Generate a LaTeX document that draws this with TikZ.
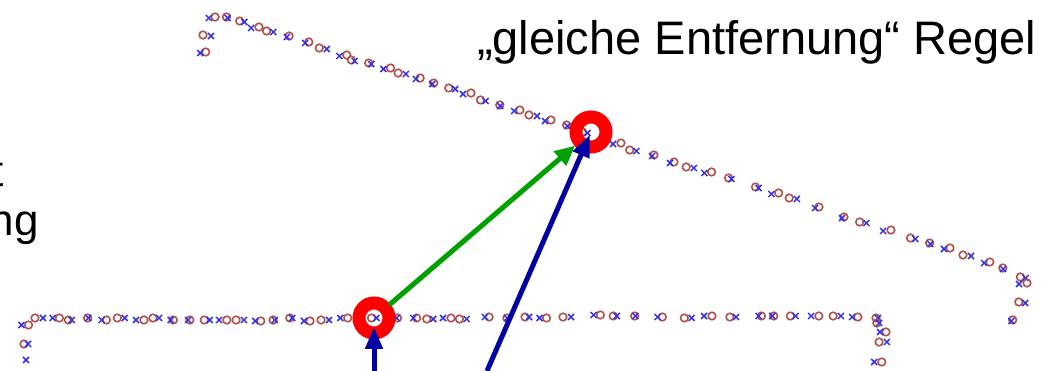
\documentclass[tikz,border=0pt]{standalone}
\usepackage{fontspec}
\setmainfont{Liberation Sans}
\usetikzlibrary{arrows.meta}
\definecolor{ringred}{RGB}{255,0,0}
\definecolor{arrgreen}{RGB}{0,160,0}
\definecolor{arrblue}{RGB}{0,0,165}
\definecolor{scanred}{RGB}{180,80,75}
\definecolor{scanblue}{RGB}{50,50,235}

\begin{document}
\begin{tikzpicture}[x=1pt,y=-1pt,
    ring/.style={draw=ringred,line width=13pt},
    greenarrow/.style={draw=arrgreen,line width=5pt,-{Triangle[length=20pt,width=18pt]}},
    bluearrow/.style={draw=arrblue,line width=5pt,-{Triangle[length=22pt,width=17pt]}},
    circmark/.style={draw=scanred,line width=1.6pt},
    crossmark/.style={draw=scanblue,line width=1.5pt},
    bigtext/.style={font=\fontsize{47}{54}\selectfont,inner sep=0pt},
    sidetext/.style={font=\fontsize{44}{50}\selectfont,inner sep=0pt}]
  \clip (0,0) rectangle (1061,371);
  \fill[white] (0,0) rectangle (1061,371);

  % left text, cut off by the frame
  \node[sidetext,anchor=base east] (cutt) at (4,187) {t};
  \node[sidetext,anchor=base east] (cutng) at (39,236) {ng};

  % title
  \node[bigtext,anchor=base west] (title) at (477,55) {„gleiche Entfernung“ Regel};

  % upper scan
  \foreach \x/\y [count=\i] in {203/52,207/35,212/17,227/17,242/21,255/27,270/31,288/36,
      307/42,323/48,343/55,353/60,370/63,387/68,402/73,418/78,433/83,452/88,467/93,
      483/100,500/105,517/110,533/115,548/120,567/125,585/132,617/143,633/150,653/155,
      672/162,690/167,708/172,730/178,757/187,775/193,793/198,817/207,843/217,863/222,
      887/230,913/238,930/243,947/248,967/255,987/262,1003/268,1023/277,1023/283,
      1022/302,1012/320}{
    \pgfmathsetmacro{\dx}{4*sin(\i*137)}
    \draw[circmark] (\x+\dx,\y) circle (3.8);
    \draw[crossmark] (\x-\dx-3,\y-2) -- (\x-\dx+3,\y+4)
                     (\x-\dx-3,\y+4) -- (\x-\dx+3,\y-2);
  }

  % lower scan
  \foreach \x/\y [count=\i] in {26/344,25/325,39/318,56/318,70/320,88/318,104/320,
      121/318,140/320,156/318,172/320,189/320,207/320,223/320,240/320,258/321,274/320,
      291/318,307/321,325/320,344/318,374/318,397/318,415/318,430/319,447/318,463/319,
      487/317,507/318,527/317,543/318,567/317,597/315,615/316,635/316,660/317,688/318,
      708/316,733/317,760/316,773/316,793/316,815/316,837/316,855/317,877/318,878/323,
      883/332,883/342,878/362}{
    \pgfmathsetmacro{\dx}{4*sin(\i*211)}
    \draw[circmark] (\x+\dx,\y) circle (3.8);
    \draw[crossmark] (\x-\dx-3,\y-3) -- (\x-\dx+3,\y+3)
                     (\x-\dx-3,\y+3) -- (\x-\dx+3,\y-3);
  }
  \draw[crossmark] (23,357) -- (29,363) (23,363) -- (29,357);

  % matched points
  \coordinate (low) at (374,318);
  \coordinate (up) at (591,132);
  \coordinate (lowfoot) at (374,380);
  \coordinate (upfoot) at (487,371);

  \draw[ring] (low) circle (15);
  \draw[ring] (up) circle (15);

  \draw[greenarrow,shorten <=20pt,shorten >=21pt] (low) -- (up);
  \draw[bluearrow,shorten >=9pt] (lowfoot) -- (low);
  \draw[bluearrow,shorten >=3pt] (upfoot) -- (up);
\end{tikzpicture}
\end{document}
